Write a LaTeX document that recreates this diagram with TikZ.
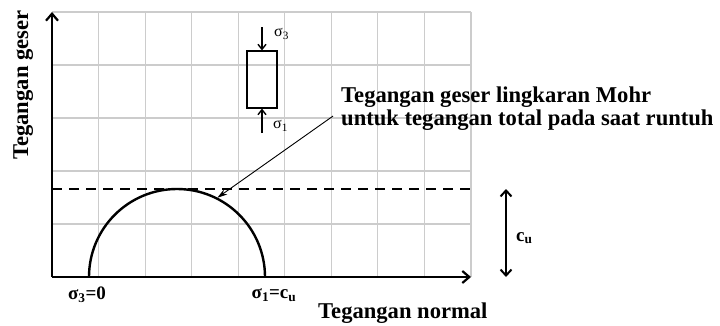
\documentclass[tikz,border=0pt]{standalone}
\usepackage{fontspec}
\setmainfont{Liberation Serif}
\usepackage{tikz}
\usetikzlibrary{positioning, arrows.meta, calc}
\usepackage{xcolor}
\definecolor{GridGray}{HTML}{CCCCCC}

\begin{document}
\begin{tikzpicture}[x=1pt, y=1pt,
    every node/.style={inner sep=0pt},
    bigtext/.style={font=\fontsize{22.6}{23}\selectfont\bfseries},
    sigtext/.style={font=\fontsize{19}{21}\selectfont\bfseries},
    smalltext/.style={font=\fontsize{16}{18}\selectfont},
    axisarrow/.style={-{Straight Barb[length=7pt, width=12pt]}, line width=2.2pt}]
      \useasboundingbox (0,0) rectangle (720,325);
      % Light grid behind everything (9 columns, 5 rows)
      \foreach \i in {1,...,9} {
        \draw[GridGray, line width=1.2pt] ({52+46.55*\i},48) -- ({52+46.55*\i},313);
      }
      \foreach \j in {1,...,5} {
        \draw[GridGray, line width=1.2pt] (52,{48+53*\j}) -- (471,{48+53*\j});
      }
      % Axes
      \coordinate (origin) at (52,48);
      \coordinate (ytop) at (52,313);
      \coordinate (xend) at (471,48);
      \draw[axisarrow] (origin) -- (ytop);
      \draw[axisarrow] (origin) -- (xend);
      \node[bigtext, rotate=90, anchor=base west] (ylabel) at (28,165) {Tegangan geser};
      \node[bigtext, anchor=base west] (xlabel) at (318,7) {Tegangan normal};
      % Dashed level of the top of the circle
      \draw[dashed, line width=1.5pt, dash pattern=on 10pt off 7pt] (52,136) -- (471,136);
      % Mohr half circle
      \coordinate (mohr) at (177,48);
      \draw[line width=2.4pt] (89,48) arc[start angle=180, end angle=0, radius=88];
      \node[sigtext] (sthree) at (87,30) {σ\textsubscript{3}=0};
      \node[sigtext] (sone) at (274,30) {σ\textsubscript{1}=c\textsubscript{u}};
      % Specimen with its two loads
      \node[draw, line width=1.2pt, minimum width=30, minimum height=57] (specimen) at (262,245.5) {};
      \coordinate (loadtop) at (262,298);
      \coordinate (loadbot) at (262,192);
      \draw[-{Straight Barb[length=5pt, width=8pt]}, line width=1.4pt] (loadtop) -- (specimen.north);
      \draw[-{Straight Barb[length=5pt, width=8pt]}, line width=1.4pt] (loadbot) -- (specimen.south);
      \node[smalltext, anchor=west] (sigthree) at (274,291) {σ\textsubscript{3}};
      \node[smalltext, anchor=west] (sigone) at (273,199) {σ\textsubscript{1}};
      % Note with arrow to the top of the circle
      \node[bigtext, anchor=north west, align=left] (note) at (341,238)
        {Tegangan geser lingkaran Mohr\\untuk tegangan total pada saat runtuh};
      \coordinate (touch) at ($(mohr)+(63:89)$);
      \draw[-{Stealth[length=10pt, width=6pt]}, line width=0.9pt]
        ($(note.south west)+(-8,15)$) -- (touch);
      % Height of the circle = c_u
      \coordinate (cutop) at (506,136);
      \coordinate (cubot) at (506,48);
      \draw[{Straight Barb[length=6pt, width=11pt]}-{Straight Barb[length=6pt, width=11pt]}, line width=2pt]
        (cutop) -- (cubot);
      \node[sigtext, anchor=west] (culabel) at (516,87) {c\textsubscript{u}};
    \end{tikzpicture}
\end{document}
